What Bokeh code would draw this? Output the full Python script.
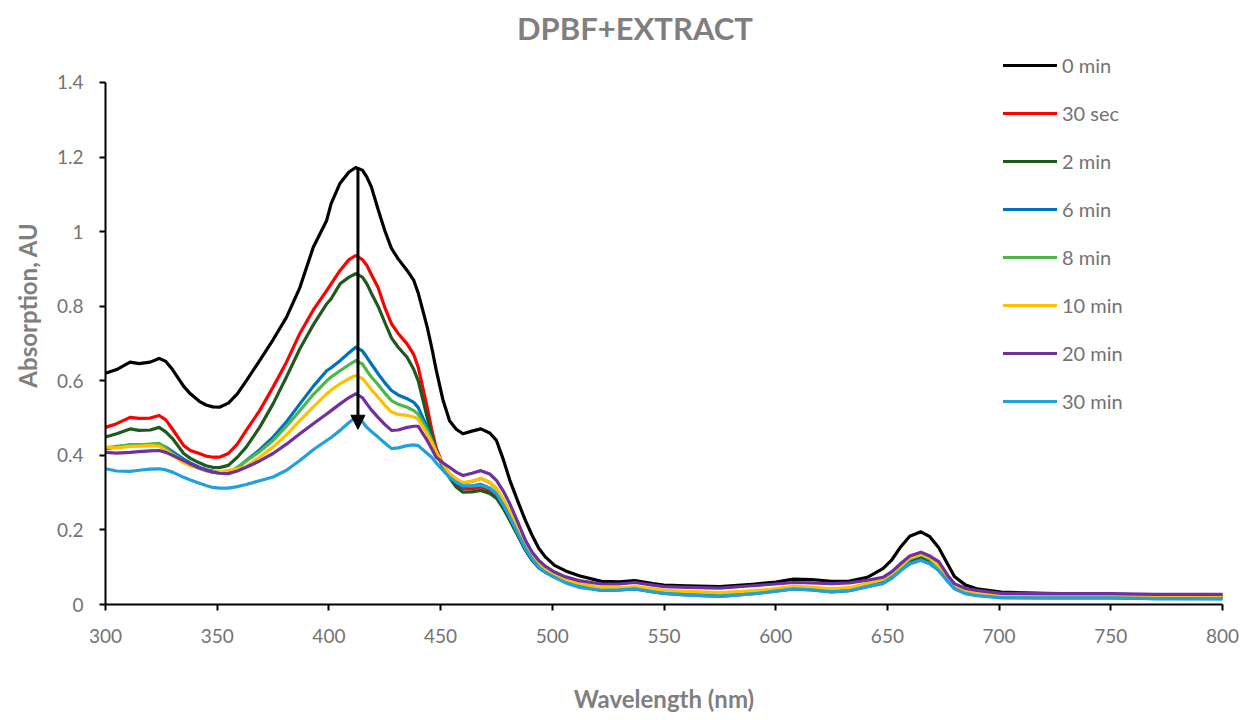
from bokeh.plotting import figure
from bokeh.models import Legend, LegendItem, Arrow, NormalHead, FixedTicker, Range1d, Label
from bokeh.embed import file_html
from bokeh.resources import INLINE

wavelength = [300, 305, 311, 315, 320, 324, 327, 330, 335, 338,
              342, 345, 348, 351, 355, 359, 363, 369, 375, 381,
              387, 393, 399, 401, 405, 409, 412, 415, 417, 419,
              422, 425, 428, 431, 435, 438, 440, 444, 446, 448,
              451, 454, 457, 460, 464, 468, 472, 475, 478, 481,
              485, 488, 491, 494, 497, 501, 506, 512, 522, 530,
              537, 545, 550, 560, 575, 591, 600, 608, 616, 625,
              633, 641, 648, 652, 656, 660, 665, 669, 673, 677,
              680, 685, 690, 701, 720, 750, 770, 800]

t0min = [0.62, 0.63, 0.65, 0.646, 0.65, 0.66, 0.652, 0.63, 0.585, 0.565,
         0.545, 0.535, 0.53, 0.529, 0.54, 0.565, 0.6, 0.654, 0.71, 0.77,
         0.85, 0.958, 1.03, 1.075, 1.13, 1.16, 1.172, 1.165, 1.146, 1.12,
         1.06, 1.003, 0.955, 0.927, 0.896, 0.869, 0.835, 0.744, 0.69, 0.63,
         0.55, 0.493, 0.47, 0.458, 0.465, 0.471, 0.46, 0.44, 0.39, 0.333,
         0.27, 0.225, 0.185, 0.15, 0.127, 0.105, 0.09, 0.077, 0.062, 0.061,
         0.064, 0.056, 0.052, 0.05, 0.048, 0.055, 0.06, 0.068, 0.067, 0.062,
         0.063, 0.073, 0.096, 0.12, 0.155, 0.183, 0.195, 0.182, 0.152, 0.108,
         0.075, 0.052, 0.042, 0.033, 0.03, 0.027, 0.026, 0.026]
t30sec = [0.475, 0.485, 0.502, 0.499, 0.5, 0.507, 0.495, 0.47, 0.426, 0.413,
          0.405, 0.398, 0.395, 0.395, 0.405, 0.43, 0.467, 0.52, 0.583, 0.65,
          0.727, 0.79, 0.842, 0.86, 0.896, 0.925, 0.936, 0.925, 0.909, 0.885,
          0.85, 0.797, 0.753, 0.727, 0.699, 0.67, 0.636, 0.529, 0.47, 0.42,
          0.375, 0.345, 0.322, 0.31, 0.31, 0.315, 0.305, 0.29, 0.262, 0.228,
          0.182, 0.148, 0.12, 0.1, 0.088, 0.075, 0.065, 0.055, 0.042, 0.042,
          0.045, 0.039, 0.035, 0.032, 0.03, 0.035, 0.04, 0.046, 0.044, 0.04,
          0.042, 0.055, 0.065, 0.08, 0.1, 0.12, 0.13, 0.12, 0.1, 0.07,
          0.048, 0.036, 0.03, 0.024, 0.022, 0.022, 0.021, 0.021]
t2min = [0.449, 0.458, 0.471, 0.467, 0.468, 0.475, 0.463, 0.445, 0.405, 0.392,
         0.38, 0.372, 0.368, 0.367, 0.373, 0.395, 0.422, 0.475, 0.538, 0.61,
         0.686, 0.75, 0.806, 0.82, 0.86, 0.878, 0.887, 0.878, 0.86, 0.835,
         0.8, 0.757, 0.715, 0.69, 0.663, 0.63, 0.6, 0.502, 0.455, 0.41,
         0.37, 0.34, 0.315, 0.301, 0.302, 0.306, 0.298, 0.285, 0.258, 0.225,
         0.18, 0.145, 0.118, 0.098, 0.086, 0.073, 0.063, 0.053, 0.04, 0.04,
         0.043, 0.037, 0.033, 0.03, 0.028, 0.033, 0.038, 0.044, 0.042, 0.038,
         0.04, 0.053, 0.063, 0.078, 0.098, 0.118, 0.128, 0.118, 0.098, 0.068,
         0.046, 0.034, 0.028, 0.022, 0.02, 0.02, 0.02, 0.02]
t6min = [0.418, 0.422, 0.428, 0.428, 0.429, 0.43, 0.422, 0.41, 0.39, 0.38,
         0.368, 0.362, 0.358, 0.354, 0.352, 0.366, 0.386, 0.415, 0.449, 0.49,
         0.538, 0.585, 0.627, 0.635, 0.654, 0.675, 0.69, 0.68, 0.663, 0.645,
         0.619, 0.595, 0.574, 0.562, 0.552, 0.542, 0.528, 0.475, 0.445, 0.41,
         0.372, 0.345, 0.327, 0.315, 0.318, 0.322, 0.312, 0.297, 0.268, 0.234,
         0.188, 0.15, 0.122, 0.1, 0.087, 0.074, 0.06, 0.05, 0.038, 0.039,
         0.042, 0.034, 0.03, 0.026, 0.022, 0.03, 0.036, 0.042, 0.039, 0.034,
         0.037, 0.048, 0.058, 0.072, 0.092, 0.11, 0.12, 0.11, 0.092, 0.063,
         0.043, 0.03, 0.025, 0.019, 0.018, 0.018, 0.016, 0.016]
t8min = [0.42, 0.424, 0.428, 0.428, 0.43, 0.432, 0.42, 0.405, 0.385, 0.375,
         0.365, 0.359, 0.355, 0.353, 0.355, 0.368, 0.385, 0.41, 0.44, 0.478,
         0.52, 0.563, 0.6, 0.61, 0.627, 0.643, 0.654, 0.645, 0.627, 0.61,
         0.59, 0.567, 0.547, 0.537, 0.529, 0.52, 0.51, 0.467, 0.44, 0.41,
         0.375, 0.35, 0.335, 0.325, 0.33, 0.338, 0.327, 0.31, 0.28, 0.245,
         0.195, 0.158, 0.128, 0.105, 0.091, 0.078, 0.065, 0.055, 0.043, 0.043,
         0.046, 0.04, 0.036, 0.033, 0.03, 0.035, 0.041, 0.047, 0.045, 0.04,
         0.043, 0.055, 0.066, 0.081, 0.1, 0.122, 0.133, 0.122, 0.1, 0.071,
         0.05, 0.036, 0.03, 0.024, 0.022, 0.022, 0.022, 0.022]
t10min = [0.422, 0.42, 0.424, 0.425, 0.426, 0.425, 0.413, 0.4, 0.38, 0.372,
          0.365, 0.359, 0.355, 0.355, 0.36, 0.363, 0.37, 0.395, 0.422, 0.455,
          0.493, 0.53, 0.565, 0.575, 0.592, 0.606, 0.614, 0.606, 0.592, 0.576,
          0.556, 0.535, 0.516, 0.51, 0.507, 0.503, 0.497, 0.458, 0.435, 0.41,
          0.377, 0.352, 0.337, 0.327, 0.331, 0.338, 0.328, 0.312, 0.283, 0.248,
          0.198, 0.16, 0.13, 0.107, 0.093, 0.08, 0.067, 0.057, 0.045, 0.045,
          0.048, 0.042, 0.038, 0.035, 0.032, 0.037, 0.043, 0.049, 0.047, 0.042,
          0.045, 0.057, 0.068, 0.084, 0.104, 0.125, 0.135, 0.125, 0.104, 0.074,
          0.052, 0.038, 0.032, 0.026, 0.024, 0.024, 0.024, 0.024]
t20min = [0.408, 0.406, 0.408, 0.41, 0.412, 0.413, 0.408, 0.4, 0.386, 0.377,
          0.366, 0.36, 0.355, 0.352, 0.351, 0.358, 0.368, 0.385, 0.405, 0.43,
          0.458, 0.485, 0.511, 0.52, 0.538, 0.555, 0.565, 0.555, 0.538, 0.522,
          0.502, 0.483, 0.467, 0.468, 0.475, 0.478, 0.478, 0.44, 0.418, 0.395,
          0.38, 0.368, 0.355, 0.346, 0.352, 0.359, 0.35, 0.333, 0.305, 0.27,
          0.215, 0.172, 0.14, 0.118, 0.102, 0.087, 0.074, 0.064, 0.055, 0.055,
          0.059, 0.052, 0.048, 0.046, 0.044, 0.051, 0.055, 0.059, 0.058, 0.056,
          0.058, 0.065, 0.073, 0.088, 0.11, 0.13, 0.14, 0.13, 0.115, 0.078,
          0.056, 0.043, 0.038, 0.03, 0.029, 0.029, 0.027, 0.027]
t30min = [0.364, 0.358, 0.357, 0.36, 0.363, 0.364, 0.361, 0.355, 0.341, 0.334,
          0.325, 0.319, 0.314, 0.312, 0.312, 0.316, 0.322, 0.332, 0.342, 0.36,
          0.386, 0.415, 0.44, 0.448, 0.467, 0.488, 0.502, 0.49, 0.475, 0.464,
          0.449, 0.433, 0.418, 0.42, 0.426, 0.428, 0.426, 0.405, 0.395, 0.38,
          0.36, 0.341, 0.328, 0.319, 0.318, 0.32, 0.312, 0.297, 0.268, 0.234,
          0.185, 0.15, 0.122, 0.1, 0.086, 0.073, 0.058, 0.046, 0.038, 0.039,
          0.042, 0.034, 0.03, 0.026, 0.022, 0.029, 0.036, 0.042, 0.039, 0.034,
          0.037, 0.048, 0.056, 0.07, 0.091, 0.109, 0.118, 0.109, 0.091, 0.062,
          0.042, 0.029, 0.024, 0.018, 0.018, 0.018, 0.016, 0.015]

series_names = ["0 min", "30 sec", "2 min", "6 min", "8 min", "10 min", "20 min", "30 min"]
series_values = [t0min, t30sec, t2min, t6min, t8min, t10min, t20min, t30min]
series_colors = ["#000000", "#ff0000", "#1e5a1e", "#0070c0", "#4cb848", "#ffc000", "#7030a0", "#21a0db"]

x_ticks = [300, 350, 400, 450, 500, 550, 600, 650, 700, 750, 800]
y_ticks = [0, 0.2, 0.4, 0.6, 0.8, 1.0, 1.2, 1.4]

title_text = "DPBF+EXTRACT"
arrow_x = 413
arrow_top = 1.17
arrow_bottom = 0.47

FONT = "Lato"
GRAY = "#7f7f7f"
TICK_GRAY = "#737373"

# y range extends above 1.4 so the legend and title (drawn inside the frame) are not clipped;
# the axis line itself is bounded to 0..1.4
p = figure(width=1252, height=720, output_backend="svg", toolbar_location=None,
           x_range=Range1d(300, 800), y_range=Range1d(0, 1.6065),
           min_border_left=105, min_border_right=30, min_border_top=5, min_border_bottom=116)

renderers = []
for name, vals, col in zip(series_names, series_values, series_colors):
    r = p.line(wavelength, vals, line_color=col, line_width=3.2, line_join="round", line_cap="round")
    renderers.append((name, r))

p.add_layout(Arrow(end=NormalHead(size=14, fill_color="black", line_color="black"),
                   x_start=arrow_x, y_start=arrow_top, x_end=arrow_x, y_end=arrow_bottom,
                   line_color="black", line_width=3))

p.add_layout(Label(x=537, y=1.545, text=title_text, text_font=FONT, text_font_size="31px",
                   text_font_style="bold", text_color=GRAY, text_align="center",
                   text_baseline="middle"))

legend = Legend(items=[LegendItem(label=n, renderers=[r]) for n, r in renderers],
                location=(898, 191), orientation="vertical",
                glyph_width=54, glyph_height=24, label_height=24, spacing=24,
                label_standoff=5, padding=0, margin=0,
                label_text_font=FONT, label_text_font_size="20px", label_text_color=TICK_GRAY,
                border_line_alpha=0, background_fill_alpha=0)
p.add_layout(legend, "center")

p.xgrid.visible = False
p.ygrid.visible = False
p.outline_line_alpha = 0

p.xaxis.ticker = FixedTicker(ticks=x_ticks)
p.yaxis.ticker = FixedTicker(ticks=y_ticks)
p.yaxis.bounds = (0, 1.4)
p.yaxis.major_label_overrides = {0: "0", 1.0: "1"}
for ax in (p.xaxis[0], p.yaxis[0]):
    ax.axis_line_color = "black"
    ax.axis_line_width = 2
    ax.major_tick_line_color = "black"
    ax.major_tick_line_width = 2
    ax.major_tick_out = 6
    ax.major_tick_in = 0
    ax.minor_tick_line_alpha = 0
    ax.major_label_text_font = FONT
    ax.major_label_text_font_size = "19px"
    ax.major_label_text_color = TICK_GRAY
    ax.axis_label_text_font = FONT
    ax.axis_label_text_font_size = "24px"
    ax.axis_label_text_font_style = "bold"
    ax.axis_label_text_color = GRAY

p.xaxis.axis_label = "Wavelength (nm)"
p.yaxis.axis_label = "Absorption, AU"
p.xaxis.major_label_standoff = 18
p.xaxis.axis_label_standoff = 38
p.yaxis.major_label_standoff = 16
p.yaxis.axis_label_standoff = 12

open("out.html", "w").write(file_html(p, INLINE))
